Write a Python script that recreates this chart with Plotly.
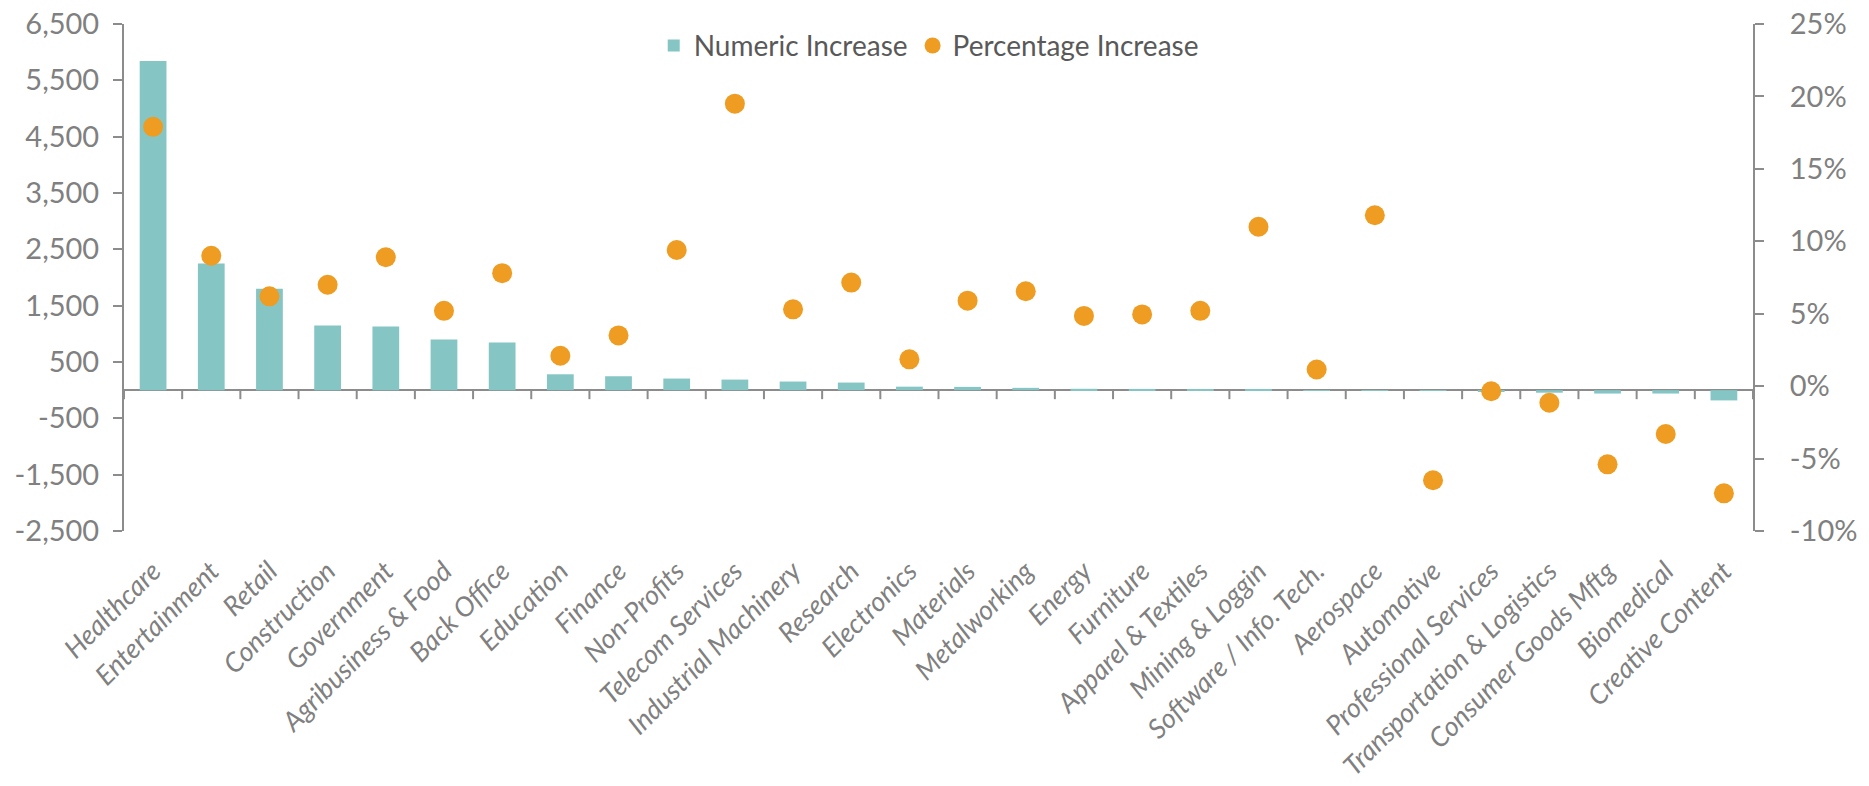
import plotly.graph_objects as go

categories = [
    "Healthcare", "Entertainment", "Retail", "Construction", "Government",
    "Agribusiness & Food", "Back Office", "Education", "Finance", "Non-Profits",
    "Telecom Services", "Industrial Machinery", "Research", "Electronics",
    "Materials", "Metalworking", "Energy", "Furniture", "Apparel & Textiles",
    "Mining & Loggin", "Software / Info. Tech.", "Aerospace", "Automotive",
    "Professional Services", "Transportation & Logistics", "Consumer Goods Mftg",
    "Biomedical", "Creative Content",
]

numeric_increase = [
    5845, 2250, 1800, 1150, 1130, 900, 845, 282, 247, 206,
    188, 153, 135, 62, 58, 41, 24, 22, 8, 5,
    3, 2, -3, -22, -45, -60, -60, -182,
]

percentage_increase = [
    17.9, 9.0, 6.2, 7.0, 8.9, 5.2, 7.8, 2.1, 3.5, 9.4,
    19.5, 5.3, 7.15, 1.85, 5.9, 6.55, 4.85, 4.95, 5.2, 11.0,
    1.15, 11.8, -6.5, -0.35, -1.15, -5.4, -3.3, -7.4,
]

left_tick_vals = [-2500, -1500, -500, 500, 1500, 2500, 3500, 4500, 5500, 6500]
left_tick_text = ["-2,500", "-1,500", "-500", "500", "1,500", "2,500",
                  "3,500", "4,500", "5,500", "6,500"]
right_tick_vals = [-10, -5, 0, 5, 10, 15, 20, 25]
right_tick_text = ["-10%", "-5%", "0%", "5%", "10%", "15%", "20%", "25%"]

TEAL = "#85C6C5"
ORANGE = "#EE9C22"
AXIS = "#8C8C8C"
TEXT = "#808080"
FONT = "Lato"

left_min, left_max = -2500, 6500

fig = go.Figure()
fig.add_trace(go.Bar(
    x=categories, y=numeric_increase, name="Numeric Increase",
    marker=dict(color=TEAL, line=dict(width=0)),
    xaxis="x", yaxis="y",
))
fig.add_trace(go.Scatter(
    x=categories, y=percentage_increase, name="Percentage Increase",
    mode="markers", marker=dict(color=ORANGE, size=20, line=dict(width=0)),
    xaxis="x", yaxis="y2",
))

# category-boundary tick marks hanging below the zero line
shapes = []
for i in range(len(categories) + 1):
    shapes.append(dict(
        type="line", xref="x", yref="y", ysizemode="pixel", yanchor=0,
        x0=i - 0.5, x1=i - 0.5, y0=0, y1=-9,
        line=dict(color=AXIS, width=2), layer="above",
    ))

fig.update_layout(
    width=1869, height=786,
    margin=dict(l=124, r=116, t=24, b=255, autoexpand=False),
    paper_bgcolor="white", plot_bgcolor="white",
    font=dict(family=FONT, color=TEXT),
    bargap=0.54,
    showlegend=True,
    shapes=shapes,
    legend=dict(
        orientation="h", x=0.494, y=0.957, xanchor="center", yanchor="middle",
        font=dict(family=FONT, size=28, color="#595959"),
        bgcolor="rgba(0,0,0,0)", itemsizing="trace",
    ),
    xaxis=dict(
        type="category", categoryorder="array", categoryarray=categories,
        range=[-0.5, len(categories) - 0.5],
        showline=False, ticks="", showgrid=False, zeroline=False,
        tickangle=-45,
        tickfont=dict(family=FONT, size=27, color=TEXT, style="italic"),
        anchor="y", side="bottom", ticklabelstandoff=18,
    ),
    yaxis=dict(
        range=[left_min, left_max],
        tickmode="array", tickvals=left_tick_vals, ticktext=left_tick_text,
        showline=True, linecolor=AXIS, linewidth=2,
        ticks="outside", ticklen=9, tickwidth=2, tickcolor=AXIS,
        showgrid=False,
        zeroline=True, zerolinecolor=AXIS, zerolinewidth=2,
        tickfont=dict(family=FONT, size=29, color=TEXT),
        ticklabelstandoff=8,
    ),
    yaxis2=dict(
        range=[-10, 25], overlaying="y", side="right", anchor="x",
        tickmode="array", tickvals=right_tick_vals, ticktext=right_tick_text,
        showline=True, linecolor=AXIS, linewidth=2,
        ticks="outside", ticklen=9, tickwidth=2, tickcolor=AXIS,
        showgrid=False, zeroline=False,
        tickfont=dict(family=FONT, size=29, color=TEXT),
        ticklabelstandoff=20,
    ),
)

fig.write_html("out.html")
